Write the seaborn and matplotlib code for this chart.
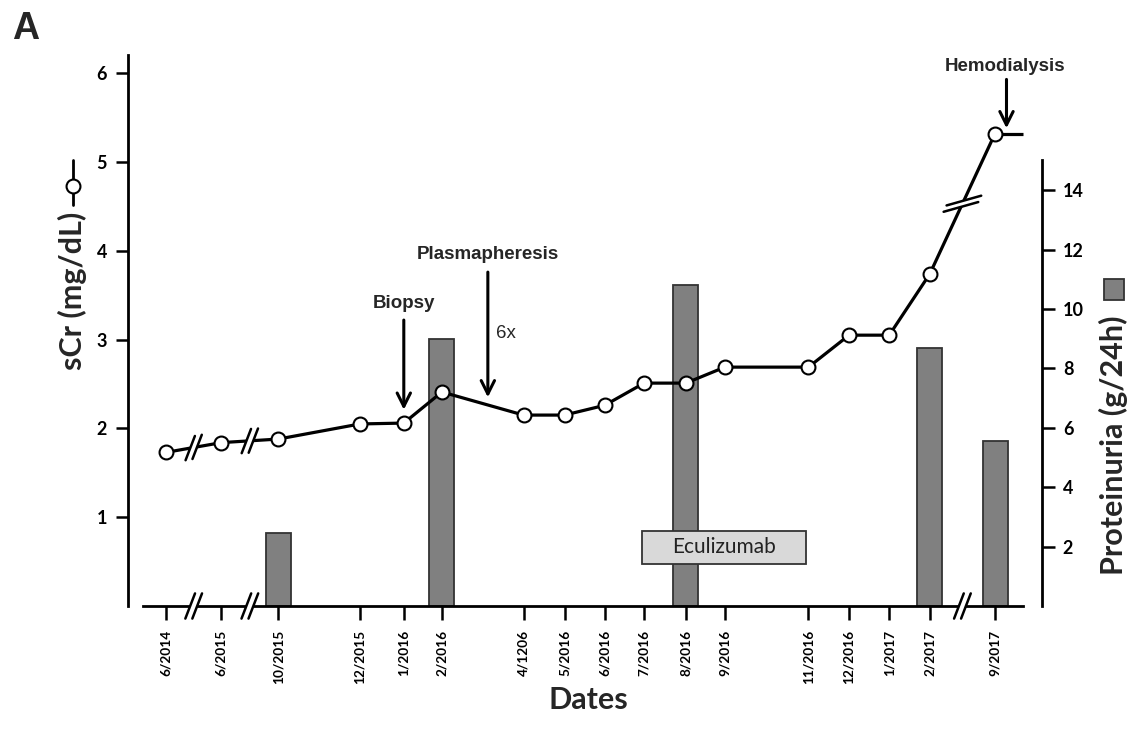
import numpy as np
import pandas as pd
import matplotlib
matplotlib.use("Agg")
import matplotlib.pyplot as plt
import seaborn as sns
from matplotlib.lines import Line2D
from matplotlib.patches import Polygon, Rectangle
from matplotlib.transforms import IdentityTransform

# ---------------- data ----------------
dates = ["6/2014", "6/2015", "10/2015", "12/2015", "1/2016", "2/2016", "4/1206",
         "5/2016", "6/2016", "7/2016", "8/2016", "9/2016", "11/2016", "12/2016",
         "1/2017", "2/2017", "9/2017"]
# compressed timeline (months, with axis breaks)
timeline = [0, 1.35, 2.74, 4.73, 5.80, 6.73, 8.72, 9.72, 10.70, 11.66, 12.68,
            13.63, 15.67, 16.66, 17.64, 18.63, 20.22]
scr = [1.73, 1.84, 1.88, 2.05, 2.06, 2.41, 2.15, 2.15, 2.26, 2.51, 2.51, 2.69,
       2.69, 3.05, 3.05, 3.74, 5.32]
prot_dates = ["10/2015", "2/2016", "8/2016", "2/2017", "9/2017"]
proteinuria = [2.45, 9.0, 10.8, 8.7, 5.55]
gap_pairs = [(0, 1), (1, 2), (15, 16)]

W, H = 1133, 731
sns.set_style("white")
plt.rcParams["font.family"] = ["Lato", "DejaVu Sans"]

fig = plt.figure(figsize=(W / 100, H / 100), dpi=100)
ax = fig.add_axes([128 / W, 1 - 606 / H, (1042 - 128) / W, (606 - 55) / H])
ax2 = ax.twinx()
ax.set_zorder(ax2.get_zorder() + 1)
ax.patch.set_visible(False)

xmin, xmax = -0.927, 21.366
ax.set_xlim(xmin, xmax)
ax.set_ylim(0, 6.205)
ax2.set_ylim(0, 18.55)

# bars (proteinuria)
prot_x = [timeline[dates.index(d)] for d in prot_dates]
ax2.bar(prot_x, proteinuria, width=0.61, color="#808080", edgecolor="#333333",
        linewidth=1.3, zorder=2)

# sCr line
df = pd.DataFrame({"t": timeline, "sCr": scr})
sns.lineplot(data=df, x="t", y="sCr", ax=ax, color="black", lw=2.3, marker="o",
             markersize=10, markerfacecolor="white", markeredgecolor="black",
             markeredgewidth=1.5, zorder=5, sort=False)
ax.plot([timeline[-1], 20.9], [scr[-1], scr[-1]], color="black", lw=2.3,
        zorder=4, solid_capstyle="butt")

# spines
for s in ["top", "right"]:
    ax.spines[s].set_visible(False)
for s in ["top", "left", "bottom"]:
    ax2.spines[s].set_visible(False)
ax.spines["left"].set_linewidth(2)
ax.spines["bottom"].set_linewidth(2)
ax.spines["bottom"].set_bounds(-0.56, 20.9)
ax2.spines["right"].set_linewidth(2)
ax2.spines["right"].set_bounds(0, 15)
for sp in [ax.spines["left"], ax.spines["bottom"], ax2.spines["right"]]:
    sp.set_color("black")

# ticks
ax.set_xticks(timeline)
ax.set_xticklabels(dates, rotation=90, fontweight="bold", fontsize=9.8)
ax.set_yticks([1, 2, 3, 4, 5, 6])
ax.set_yticklabels(["1", "2", "3", "4", "5", "6"], fontweight="bold", fontsize=13)
ax.tick_params(axis="x", direction="out", length=10, width=1.8, pad=7,
               bottom=True, colors="black")
ax.tick_params(axis="y", direction="out", length=9, width=1.8, pad=6,
               left=True, colors="black")
ax2.set_yticks([2, 4, 6, 8, 10, 12, 14])
ax2.set_yticklabels([str(v) for v in [2, 4, 6, 8, 10, 12, 14]],
                    fontweight="bold", fontsize=13)
ax2.tick_params(axis="y", direction="out", length=9, width=1.8, pad=6,
                right=True, colors="black")
ax.set_xlabel("")
ax.set_ylabel("")
ax.grid(False)
ax2.grid(False)

# Eculizumab box
ax.add_patch(Rectangle((11.60, 0.473), 4.01, 0.372, fc="#d9d9d9", ec="#333333",
                       lw=1.3, zorder=6))
ax.text(11.60 + 4.01 / 2, 0.473 + 0.372 / 2, "Eculizumab", ha="center",
        va="center", fontsize=15, color="#222222", zorder=7)

# annotations
arrow_kw = dict(arrowstyle="->", lw=2.2, color="black", mutation_scale=24,
                shrinkA=0, shrinkB=0)
ax.annotate("", xy=(timeline[4], 2.21), xytext=(timeline[4], 3.22),
            arrowprops=arrow_kw)
ax.text(timeline[4], 3.41, "Biopsy", ha="center", va="center", fontsize=13.5,
        fontweight="bold", family="Liberation Sans")
ax.annotate("", xy=(7.85, 2.35), xytext=(7.85, 3.76), arrowprops=arrow_kw)
ax.text(7.85, 3.96, "Plasmapheresis", ha="center", va="center", fontsize=13.5,
        fontweight="bold", family="Liberation Sans")
ax.text(8.05, 3.07, "6x", ha="left", va="center", fontsize=13.5,
        family="Liberation Sans")
ax.annotate("", xy=(20.5, 5.38), xytext=(20.5, 5.93), arrowprops=arrow_kw)
ax.text(20.46, 6.07, "Hemodialysis", ha="center", va="center", fontsize=13.5,
        fontweight="bold", family="Liberation Sans")

# labels
fig.text(72 / W, 1 - 291 / H, "sCr (mg/dL)", rotation=90, ha="center",
         va="center", fontsize=22, fontweight="bold")
fig.add_artist(Line2D([73, 73], [H - 160, H - 205], transform=IdentityTransform(),
                      color="black", lw=2))
fig.add_artist(Line2D([73], [H - 186], transform=IdentityTransform(), marker="o",
                      markersize=10, mfc="white", mec="black", mew=1.5))
fig.text(1113 / W, 1 - 445 / H, "Proteinuria (g/24h)", rotation=90, ha="center",
         va="center", fontsize=22, fontweight="bold")
fig.add_artist(Rectangle((1104, H - 300), 20, 21, transform=IdentityTransform(),
                         fc="#808080", ec="#333333", lw=1.3))
fig.text(588 / W, 1 - 700 / H, "Dates", ha="center", va="center", fontsize=22,
         fontweight="bold")
fig.text(26 / W, 1 - 29 / H, "A", ha="center", va="center", fontsize=27,
         fontweight="bold", family="Liberation Sans")


# break marks
def break_mark(c, d, s, length, gap, lw=1.8):
    d = np.asarray(d, float); d /= np.linalg.norm(d)
    s = np.asarray(s, float); s /= np.linalg.norm(s)
    c = np.asarray(c, float)
    h = length / 2
    p1 = c - s * gap / 2
    p2 = c + s * gap / 2
    poly = [p1 - d * h, p1 + d * h, p2 + d * h, p2 - d * h]
    fig.add_artist(Polygon(poly, closed=True, transform=IdentityTransform(),
                           fc="white", ec="none", zorder=20))
    for p in (p1, p2):
        fig.add_artist(Line2D([p[0] - d[0] * h, p[0] + d[0] * h],
                              [p[1] - d[1] * h, p[1] + d[1] * h],
                              transform=IdentityTransform(), color="black",
                              lw=lw, zorder=21))


for i, j in gap_pairs:
    xm = (timeline[i] + timeline[j]) / 2
    # on x-axis
    c_axis = ax.transData.transform((xm, 0))
    break_mark(c_axis, (10, 26), (1, 0), 27, 7)
    # on sCr line
    pa = ax.transData.transform((timeline[i], scr[i]))
    pb = ax.transData.transform((timeline[j], scr[j]))
    cm = (pa + pb) / 2
    direction = pb - pa
    if abs(direction[1]) > abs(direction[0]):
        break_mark(cm, (0.96, 0.27), direction, 36, 7)
    else:
        break_mark(cm, (10, 26), direction, 26, 7)

fig.savefig("out.png", dpi=100)
